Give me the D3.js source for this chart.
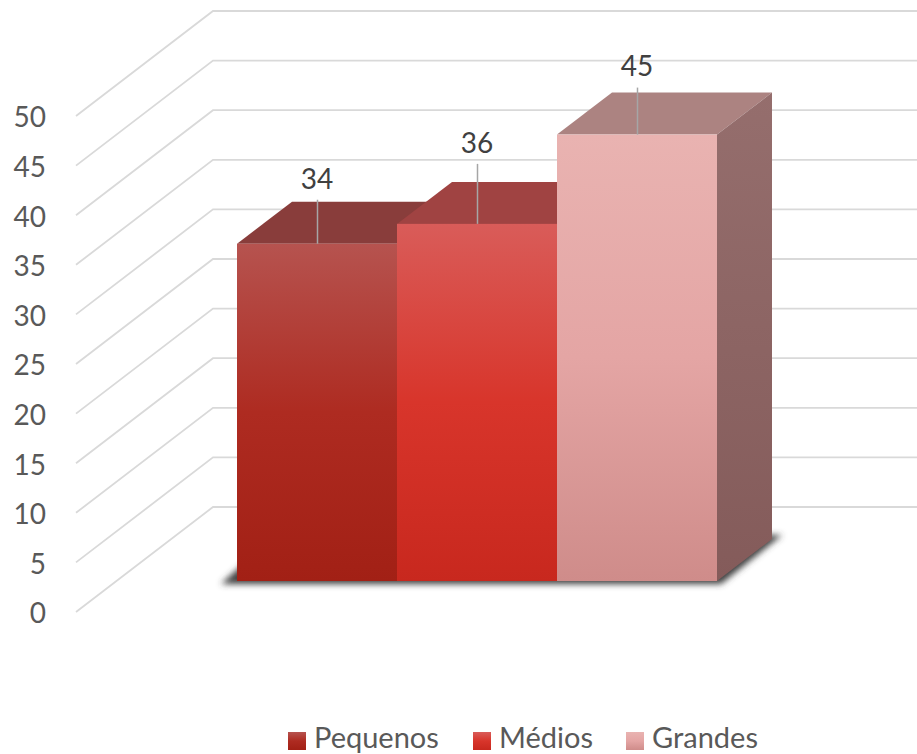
<!DOCTYPE html>
<html>
<head>
<meta charset="utf-8">
<script src="https://cdn.jsdelivr.net/npm/d3@7"></script>
<style>
  body { margin: 0; background: #fff; }
  svg { display: block; }
  text { font-family: Lato, "Open Sans", sans-serif; }
</style>
</head>
<body>
<div id="chart"></div>
<script>
// values
var categories = ["Pequenos", "Médios", "Grandes"]
var values = [34, 36, 45]
var tickValues = [0, 5, 10, 15, 20, 25, 30, 35, 40, 45, 50]

// colours per series
var frontStops = [
  [["0%", "#b6534f"], ["50%", "#ae2b21"], ["100%", "#a22015"]],
  [["0%", "#d95c59"], ["50%", "#d8352b"], ["100%", "#c8281e"]],
  [["0%", "#e9b3b1"], ["50%", "#e4a5a4"], ["100%", "#cf8c8a"]]
]
var topColors = ["#893d3b", "#a04342", "#ac8381"]
var sideStops = [["0%", "#956e6d"], ["100%", "#845b5a"]]

// data label leader length for each bar
var leaderLengths = [44, 60, 47]
var legendX = [288, 473, 626]

var width = 917, height = 754
var depthX = 55, depthY = 42       // how far a bar runs back
var wallX = 137, wallY = 105       // how far the side wall runs back

var svg = d3.select("#chart").append("svg")
  .attr("width", width)
  .attr("height", height)

var defs = svg.append("defs")

function addGradient(id, stops) {
  var g = defs.append("linearGradient")
    .attr("id", id)
    .attr("x1", 0).attr("y1", 0)
    .attr("x2", 0).attr("y2", 1)
  g.selectAll("stop")
    .data(stops)
    .enter()
    .append("stop")
    .attr("offset", function(d) { return d[0] })
    .attr("stop-color", function(d) { return d[1] })
}
frontStops.forEach(function(s, i) { addGradient("front" + i, s) })
addGradient("side", sideStops)

defs.append("filter")
  .attr("id", "floorShadow")
  .attr("x", "-10%").attr("y", "-30%")
  .attr("width", "120%").attr("height", "160%")
  .append("feGaussianBlur")
  .attr("stdDeviation", 3)

// y is the front edge of the side wall, barY the front face of the bars
var y = d3.scaleLinear().domain([0, 50]).range([612, 116])
var barY = d3.scaleLinear().domain([0, 50]).range([581, 85])
var x = d3.scaleBand().domain(categories).range([237, 717])

// gridlines, running back along the wall then across to the right
var grid = svg.selectAll(".grid")
  .data(tickValues)
  .enter()
  .append("polyline")
  .attr("class", "grid")
  .attr("fill", "none")
  .attr("stroke", "#d9d9d9")
  .attr("stroke-width", 1.8)
  .attr("points", function(d) {
    return [[76, y(d)], [76 + wallX, y(d) - wallY], [width, y(d) - wallY]].join(" ")
  })

var yAxis = svg.selectAll(".tick-label")
  .data(tickValues)
  .enter()
  .append("text")
  .attr("class", "tick-label")
  .attr("x", 46)
  .attr("y", function(d) { return y(d) + 1.5 })
  .attr("dy", "0.35em")
  .attr("text-anchor", "end")
  .attr("font-size", 28)
  .attr("fill", "#595959")
  .text(function(d) { return d })

// soft shadow on the floor under the bars
var x0 = x(categories[0])
var x1 = x(categories[2]) + x.bandwidth()
svg.append("polygon")
  .attr("fill", "#404040")
  .attr("filter", "url(#floorShadow)")
  .attr("points", [
    [x0 - 16, barY(0) + 3], [x1 + 4, barY(0) + 3],
    [x1 + depthX + 10, barY(0) - depthY - 4], [x0 + depthX - 16, barY(0) - depthY - 4]
  ].join(" "))

var bars = svg.selectAll(".bar")
  .data(values)
  .enter()
  .append("g")
  .attr("class", "bar")

// top face
bars.append("polygon")
  .attr("fill", function(d, i) { return topColors[i] })
  .attr("points", function(d, i) {
    var l = x(categories[i]), r = l + x.bandwidth(), t = barY(d)
    return [[l, t], [r, t], [r + depthX, t - depthY], [l + depthX, t - depthY]].join(" ")
  })

// side face
bars.append("polygon")
  .attr("fill", "url(#side)")
  .attr("points", function(d, i) {
    var r = x(categories[i]) + x.bandwidth(), t = barY(d), b = barY(0)
    return [[r, t], [r + depthX, t - depthY], [r + depthX, b - depthY], [r, b]].join(" ")
  })

// front face
bars.append("rect")
  .attr("x", function(d, i) { return x(categories[i]) })
  .attr("y", function(d) { return barY(d) })
  .attr("width", x.bandwidth())
  .attr("height", function(d) { return barY(0) - barY(d) })
  .attr("fill", function(d, i) { return "url(#front" + i + ")" })

// leader lines and data labels go on top of everything
var labels = svg.selectAll(".data-label")
  .data(values)
  .enter()
  .append("g")
  .attr("class", "data-label")

labels.append("line")
  .attr("x1", function(d, i) { return x(categories[i]) + x.bandwidth() / 2 + 0.5 })
  .attr("x2", function(d, i) { return x(categories[i]) + x.bandwidth() / 2 + 0.5 })
  .attr("y1", function(d) { return barY(d) })
  .attr("y2", function(d, i) { return barY(d) - leaderLengths[i] })
  .attr("stroke", "#a6a6a6")
  .attr("stroke-width", 1.5)

labels.append("text")
  .attr("x", function(d, i) { return x(categories[i]) + x.bandwidth() / 2 })
  .attr("y", function(d, i) { return barY(d) - leaderLengths[i] - 21 })
  .attr("dy", "0.35em")
  .attr("text-anchor", "middle")
  .attr("font-size", 28)
  .attr("fill", "#404040")
  .text(function(d) { return d })

// legend
var legend = svg.selectAll(".legend")
  .data(categories)
  .enter()
  .append("g")
  .attr("class", "legend")

legend.append("rect")
  .attr("x", function(d, i) { return legendX[i] })
  .attr("y", 732)
  .attr("width", 18)
  .attr("height", 18)
  .attr("fill", function(d, i) { return "url(#front" + i + ")" })

legend.append("text")
  .attr("x", function(d, i) { return legendX[i] + 26 })
  .attr("y", 748)
  .attr("font-size", 29)
  .attr("fill", "#595959")
  .text(function(d) { return d })
</script>
</body>
</html>
